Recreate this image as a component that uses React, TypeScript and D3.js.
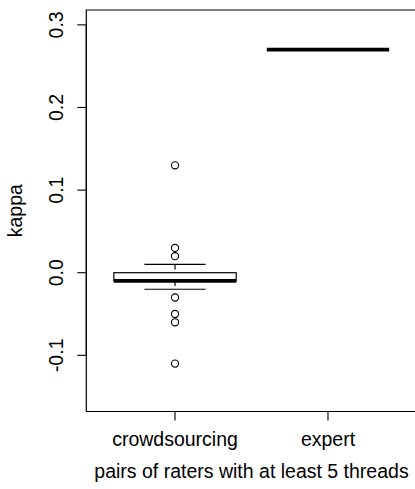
import React from "react";
import * as d3 from "d3";

const categories = ["crowdsourcing", "expert"];
// box stats: [lowWhisker, q1, median, q3, highWhisker]
const crowdStats = [-0.02, -0.01, -0.01, 0.0, 0.01];
const expertStats = [0.27, 0.27, 0.27, 0.27, 0.27];
const crowdOutliers = [0.13, 0.03, 0.02, -0.03, -0.05, -0.06, -0.11];
const expertOutliers: number[] = [];
const yTicks = [-0.1, 0.0, 0.1, 0.2, 0.3];
const yLabel = "kappa";
const xLabel = "pairs of raters with at least 5 threads";

const W = 415;
const H = 489;
const FONT = "Liberation Sans, Arial, Helvetica, sans-serif";
const FS = 19.5;

export default function App() {
  const x = d3.scaleLinear().domain([0.42, 2.58]).range([86.3, 416.7]);
  const y = d3.scaleLinear().domain([-0.168, 0.318]).range([411.5, 10]);
  const boxes = [
    { name: categories[0], s: crowdStats, out: crowdOutliers },
    { name: categories[1], s: expertStats, out: expertOutliers },
  ];
  const bw = 0.8;
  const [x0, x1] = x.range();
  const [yb, yt] = y.range();
  const cx = (x0 + x1) / 2;
  const cy = (yb + yt) / 2;
  const fmt = (t: number) => t.toFixed(1);
  return (
    <svg width={W} height={H} style={{ position: "absolute", left: 0, top: 0, background: "#fff" }} fontFamily={FONT}>
      <path d={`M${x1 + 5},${yt}H${x0}V${yb}H${x1 + 5}`} fill="none" stroke="#000" strokeWidth={1.2} />
      {boxes.map((b, i) => {
        const c = x(i + 1);
        const hw = (x(1 + bw / 2) - x(1));
        const sw = hw / 2;
        const [lo, q1, md, q3, hi] = b.s;
        return (
          <g key={b.name}>
            <line x1={c} x2={c} y1={y(hi)} y2={y(q3)} stroke="#000" strokeWidth={1.2} strokeDasharray="5,4" />
            <line x1={c} x2={c} y1={y(q1)} y2={y(lo)} stroke="#000" strokeWidth={1.2} strokeDasharray="5,4" />
            <line x1={c - sw} x2={c + sw} y1={y(hi)} y2={y(hi)} stroke="#000" strokeWidth={1.2} />
            <line x1={c - sw} x2={c + sw} y1={y(lo)} y2={y(lo)} stroke="#000" strokeWidth={1.2} />
            <rect x={c - hw} y={y(q3)} width={2 * hw} height={Math.max(0, y(q1) - y(q3))} fill="#fff" stroke="#000" strokeWidth={1.2} />
            <line x1={c - hw} x2={c + hw} y1={y(md)} y2={y(md)} stroke="#000" strokeWidth={3.8} />
            {b.out.map((v, j) => (
              <circle key={j} cx={c} cy={y(v)} r={3.6} fill="none" stroke="#000" strokeWidth={1.1} />
            ))}
          </g>
        );
      })}
      {/* y axis */}
      <line x1={x0} x2={x0} y1={y(yTicks[0])} y2={y(yTicks[yTicks.length - 1])} stroke="#000" strokeWidth={1.1} />
      {yTicks.map((t) => (
        <g key={t}>
          <line x1={x0 - 9} x2={x0} y1={y(t)} y2={y(t)} stroke="#000" strokeWidth={1.1} />
          <text transform={`translate(63,${y(t)}) rotate(-90)`} textAnchor="middle" fontSize={FS} fill="#000">
            {fmt(t)}
          </text>
        </g>
      ))}
      {/* x axis */}
      <line x1={x(1)} x2={x(2)} y1={yb} y2={yb} stroke="#000" strokeWidth={1.1} />
      {categories.map((c, i) => (
        <g key={c}>
          <line x1={x(i + 1)} x2={x(i + 1)} y1={yb} y2={yb + 9} stroke="#000" strokeWidth={1.1} />
          <text x={x(i + 1)} y={446} textAnchor="middle" fontSize={FS} fill="#000">{c}</text>
        </g>
      ))}
      <text x={cx} y={478} textAnchor="middle" fontSize={FS} fill="#000">{xLabel}</text>
      <text transform={`translate(22,${cy}) rotate(-90)`} textAnchor="middle" fontSize={FS} fill="#000">{yLabel}</text>
    </svg>
  );
}
